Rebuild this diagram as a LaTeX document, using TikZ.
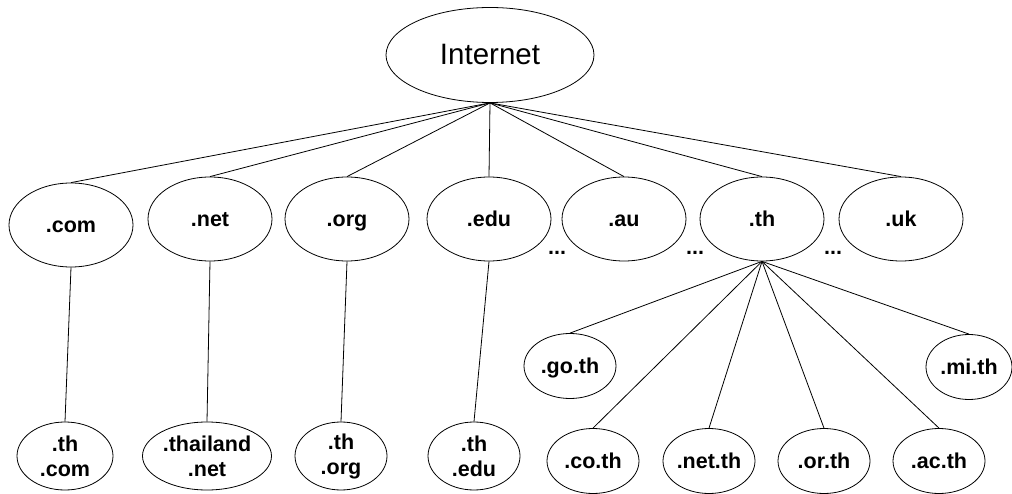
\documentclass[tikz,border=0pt]{standalone}
\usepackage{fontspec}
\setmainfont{Liberation Sans}
\usetikzlibrary{shapes.geometric}

\begin{document}
\begin{tikzpicture}[
        x=1pt, y=-1pt,
        line width=0.8pt,
        every node/.style={font=\fontsize{21.5}{25}\selectfont\bfseries},
        root/.style={ellipse, draw, inner sep=0pt, minimum width=208pt, minimum height=95pt, text height=20pt, text depth=0pt, font=\fontsize{29.5}{34}\selectfont},
        tld/.style={ellipse, draw, inner sep=0pt, minimum width=124pt, minimum height=84pt, text height=15pt, text depth=0pt},
        leaf/.style={ellipse, draw, inner sep=0pt, minimum width=93pt, minimum height=68pt, align=center},
        sub/.style={ellipse, draw, inner sep=0pt, minimum width=92pt, minimum height=65pt, text height=14pt, text depth=0pt},
        dots/.style={anchor=base, inner sep=0pt},
        link/.style={-}
    ]
        \useasboundingbox (0,0) rectangle (1012,494);

        \node[root] (internet) at (490,55) {Internet};

        % top level domains
        \node[tld] (com) at (71,225) {.com};
        \node[tld] (net) at (210,219) {.net};
        \node[tld] (org) at (347,219) {.org};
        \node[tld] (edu) at (489,219) {.edu};
        \node[tld] (au) at (624,219) {.au};
        \node[tld] (th) at (762,219) {.th};
        \node[tld] (uk) at (901,219) {.uk};

        \node[dots] (dotsa) at (557,255) {...};
        \node[dots] (dotsb) at (695,255) {...};
        \node[dots] (dotsc) at (833,255) {...};

        % second level
        \node[leaf, minimum width=96pt] (thcom) at (65,456) {.th\\.com};
        \node[leaf, minimum width=129pt] (thailand) at (207,456) {.thailand\\.net};
        \node[leaf, minimum width=92pt] (thorg) at (341,456) {.th\\.org};
        \node[leaf, minimum width=92pt] (thedu) at (474,456) {.th\\.edu};

        \node[sub] (goth) at (570,366) {.go.th};
        \node[sub, minimum width=86pt] (mith) at (969,367) {.mi.th};
        \node[sub] (coth) at (593,461) {.co.th};
        \node[sub] (netth) at (709,461) {.net.th};
        \node[sub] (orth) at (824,461) {.or.th};
        \node[sub] (acth) at (939,461) {.ac.th};

        \draw[link] (internet.south) -- (com.north);
        \draw[link] (internet.south) -- (net.north);
        \draw[link] (internet.south) -- (org.north);
        \draw[link] (internet.south) -- (edu.north);
        \draw[link] (internet.south) -- (au.north);
        \draw[link] (internet.south) -- (th.north);
        \draw[link] (internet.south) -- (uk.north);

        \draw[link] (com.south) -- (thcom.north);
        \draw[link] (net.south) -- (thailand.north);
        \draw[link] (org.south) -- (thorg.north);
        \draw[link] (edu.south) -- (thedu.north);

        \draw[link] (th.south) -- (goth.north);
        \draw[link] (th.south) -- (coth.north);
        \draw[link] (th.south) -- (netth.north);
        \draw[link] (th.south) -- (orth.north);
        \draw[link] (th.south) -- (acth.north);
        \draw[link] (th.south) -- (mith.north);
    \end{tikzpicture}
\end{document}
